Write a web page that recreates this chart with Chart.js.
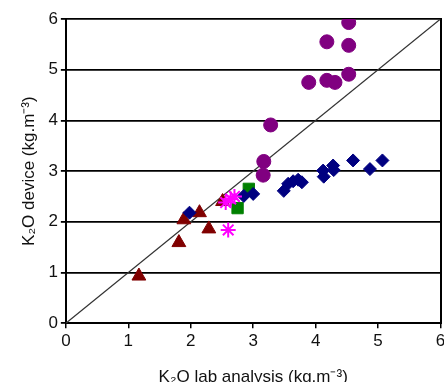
<!DOCTYPE html>
<html>
<head>
<script src="https://cdn.jsdelivr.net/npm/chart.js@4"></script>
<style>
  html, body { margin: 0; padding: 0; overflow: hidden; background: #fff; }
  #wrap { width: 450px; height: 388px; }
</style>
</head>
<body>
<div id="wrap"><canvas id="chart" width="450" height="388"></canvas></div>
<script>
// lab analysis (x) vs device reading (y), kg.m-3
const circleX = [4.53, 4.18, 4.53, 4.53, 3.89, 4.18, 4.31, 3.28, 3.17, 3.16];
const circleY = [5.93, 5.55, 5.48, 4.91, 4.75, 4.79, 4.75, 3.91, 3.19, 2.92];

const diamondX = [1.98, 2.85, 3.0, 3.49, 3.56, 3.64, 3.72, 3.78, 4.12, 4.13, 4.28, 4.29, 4.6, 4.87, 5.07];
const diamondY = [2.18, 2.51, 2.55, 2.61, 2.75, 2.8, 2.83, 2.78, 3.01, 2.89, 3.11, 3.02, 3.21, 3.04, 3.21];

const squareX = [2.93, 2.75];
const squareY = [2.65, 2.27];

const triangleX = [1.17, 1.81, 1.89, 2.14, 2.29, 2.51];
const triangleY = [0.93, 1.59, 2.04, 2.18, 1.86, 2.4];

const starX = [2.56, 2.64, 2.7, 2.6];
const starY = [2.38, 2.45, 2.5, 1.84];

const axisTicks = [0, 1, 2, 3, 4, 5, 6];

const pts = (xs, ys) => xs.map((x, i) => ({ x, y: ys[i] }));

Chart.defaults.font.family = "'Liberation Sans', Arial, sans-serif";
Chart.defaults.font.size = 17;
Chart.defaults.color = '#111';

new Chart(document.getElementById('chart'), {
  type: 'scatter',
  data: {
    datasets: [
      { data: pts(circleX, circleY), pointStyle: 'circle', pointRadius: 7,
        backgroundColor: '#800080', borderColor: '#800080', order: 1 },
      { data: pts(diamondX, diamondY), pointStyle: 'rectRot', pointRadius: 6.5,
        backgroundColor: '#000080', borderColor: '#000080', order: 1 },
      { data: pts(squareX, squareY), pointStyle: 'rect', pointRadius: 8,
        backgroundColor: '#008000', borderColor: '#008000', order: 1 },
      { data: pts(triangleX, triangleY), pointStyle: 'triangle', pointRadius: 8,
        backgroundColor: '#800000', borderColor: '#800000', order: 1 },
      { data: pts(starX, starY), pointStyle: 'star', pointRadius: 7.5, borderWidth: 2,
        backgroundColor: '#ff00ff', borderColor: '#ff00ff', order: 0 },
      { data: [{ x: 0, y: 0 }, { x: 6, y: 6 }], showLine: true, pointRadius: 0,
        borderColor: '#333', borderWidth: 1.2, order: 5 }
    ]
  },
  options: {
    responsive: false,
    animation: false,
    layout: { padding: { top: 19, left: 15, right: 0, bottom: 0 } },
    plugins: { legend: { display: false }, tooltip: { enabled: false } },
    scales: {
      x: {
        type: 'linear', min: 0, max: 6,
        afterBuildTicks: axis => { axis.ticks = axisTicks.map(v => ({ value: v })); },
        grid: { drawOnChartArea: false, drawTicks: true, tickLength: 5, color: '#000', lineWidth: 1.5 },
        border: { color: '#000', width: 2 },
        ticks: { padding: 3 },
        title: { display: true, text: 'K₂O lab analysis (kg.m⁻³)', padding: { top: 13, bottom: 0 } }
      },
      y: {
        type: 'linear', min: 0, max: 6,
        afterBuildTicks: axis => { axis.ticks = axisTicks.map(v => ({ value: v })); },
        grid: { color: '#000', lineWidth: 1.8, tickLength: 5 },
        border: { color: '#000', width: 2 },
        ticks: { padding: 3 },
        title: { display: true, text: 'K₂O device (kg.m⁻³)', padding: { bottom: 6 } }
      },
      y2: {
        type: 'linear', position: 'right', min: 0, max: 6,
        grid: { drawOnChartArea: false, drawTicks: false },
        border: { color: '#000', width: 2 },
        ticks: { display: false }
      }
    }
  }
});
</script>
</body>
</html>
